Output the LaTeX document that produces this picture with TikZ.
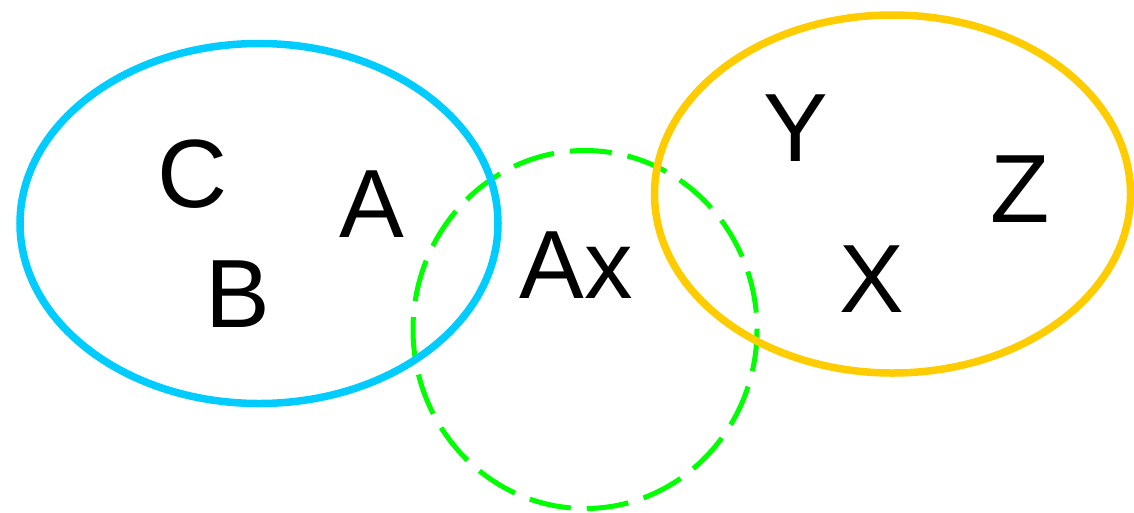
\documentclass[tikz,border=0pt]{standalone}
\usepackage{fontspec}
\setmainfont{Liberation Sans}
\definecolor{setblue}{RGB}{0,204,255}
\definecolor{setorange}{RGB}{255,204,0}
\definecolor{setgreen}{RGB}{0,255,0}
\begin{document}
\begin{tikzpicture}[x=1pt,y=-1pt,
  lbl/.style={anchor=base,inner sep=0pt,font=\fontsize{97}{110}\selectfont},
  setline/.style={line width=7.5pt}]
\useasboundingbox (0,0) rectangle (1134,512);
\draw[line width=5pt,setgreen,dash pattern=on 42pt off 16pt] (585,329.5) ellipse [x radius=172, y radius=179];
\draw[setline,setblue] (259,223.5) ellipse [x radius=239, y radius=180];
\draw[setline,setorange] (892.5,194) ellipse [x radius=238, y radius=179];
\node[lbl] (C) at (192.5,207) {C};
\node[lbl] (A) at (372,237) {A};
\node[lbl] (B) at (237.5,327) {B};
\node[lbl] (Ax) at (576.5,298) {Ax};
\node[lbl] (Y) at (795.5,161) {Y};
\node[lbl] (X) at (872,312) {X};
\node[lbl] (Z) at (1020,222) {Z};
\end{tikzpicture}
\end{document}
